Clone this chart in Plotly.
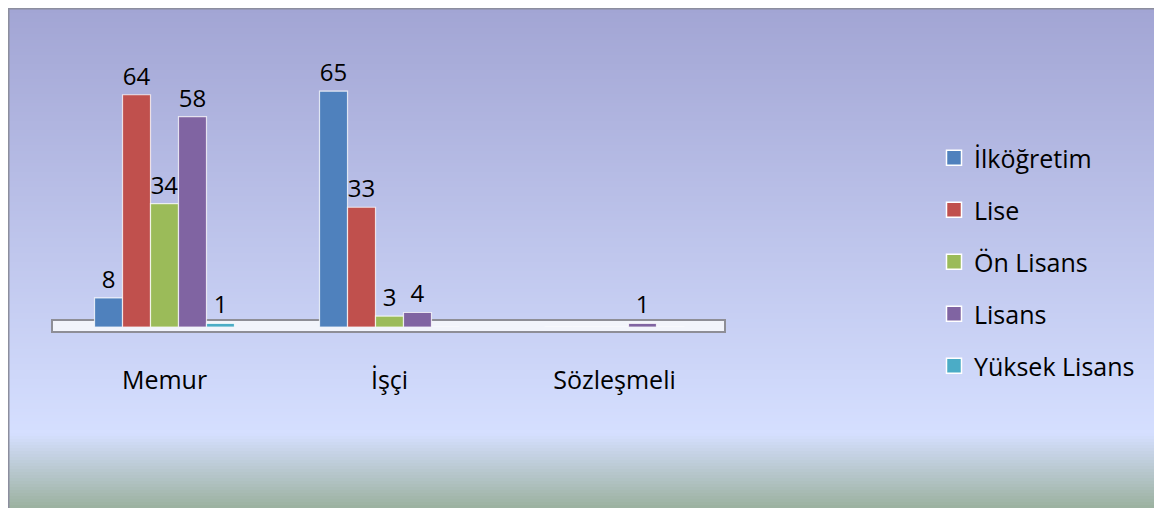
import plotly.graph_objects as go

categories = ["Memur", "İşçi", "Sözleşmeli"]
series_names = ["İlköğretim", "Lise", "Ön Lisans", "Lisans", "Yüksek Lisans"]
ilkogretim = [8, 65, 0]
lise = [64, 33, 0]
on_lisans = [34, 3, 0]
lisans = [58, 4, 1]
yuksek_lisans = [1, 0, 0]
series_values = [ilkogretim, lise, on_lisans, lisans, yuksek_lisans]
colors = ["#4F81BD", "#C0504D", "#9BBB59", "#8064A2", "#4BACC6"]

FONT = "Open Sans"
OFF = 8  # page body margin
W, H = 1162 - OFF, 508 - OFF
L, R, T, B = 52 - OFF, 435, 73 - OFF, 181
PW, PH = W - L - R, H - T - B


def px_x(px):  # screen px -> paper x
    return (px - OFF - L) / PW


def px_y(py):  # screen px -> paper y
    return (H - B - (py - OFF)) / PH


fig = go.Figure()

for name, vals, col in zip(series_names, series_values, colors):
    fig.add_trace(go.Bar(
        name=name, x=categories, y=vals,
        marker=dict(color=col, line=dict(color="rgba(255,255,255,0.75)", width=1.2)),
        text=[str(v) if v else "" for v in vals],
        textposition="outside", constraintext="none", cliponaxis=False,
        textfont=dict(family=FONT, size=24, color="#000000"),
        showlegend=False, hoverinfo="skip",
    ))
    fig.add_trace(go.Scatter(
        name=name, x=[None], y=[None], mode="markers", legendgroup=name,
        marker=dict(symbol="square", size=15, color=col, line=dict(color="white", width=1.5)),
        showlegend=True,
    ))

shapes = []


def lerp(c1, c2, t):
    return tuple(round(a + (b - a) * t) for a, b in zip(c1, c2))


top_c, mid_c, bot_c = (162, 165, 212), (213, 223, 255), (154, 176, 157)
y_top, y_mid, y_bot = 7, 432, 510
step = 3
py = y_top
while py < y_bot:
    if py < y_mid:
        c = lerp(top_c, mid_c, (py - y_top) / (y_mid - y_top))
    else:
        c = lerp(mid_c, bot_c, min(1, (py - y_mid) / (508 - y_mid)))
    shapes.append(dict(type="rect", xref="paper", yref="paper", layer="below",
                       x0=px_x(7), x1=px_x(1175),
                       y0=px_y(py + step + 0.6), y1=px_y(py),
                       fillcolor="rgb(%d,%d,%d)" % c, line=dict(width=0)))
    py += step

# frame border (top & left)
shapes.append(dict(type="rect", xref="paper", yref="paper", layer="below",
                   x0=px_x(8.5), x1=px_x(1180),
                   y0=px_y(530), y1=px_y(8.5),
                   fillcolor="rgba(0,0,0,0)", line=dict(color="#8C8E9E", width=2)))

# floor slab
shapes.append(dict(type="rect", xref="paper", yref="paper", layer="below",
                   x0=px_x(52), x1=px_x(725),
                   y0=px_y(332), y1=px_y(320),
                   fillcolor="#F2F4FB", line=dict(color="#8E8E96", width=2)))

fig.update_layout(
    width=W, height=H,
    margin=dict(l=L, r=R, t=T, b=B, pad=0),
    paper_bgcolor="white", plot_bgcolor="rgba(0,0,0,0)",
    barmode="group", bargap=0.378, bargroupgap=0,
    shapes=shapes,
    font=dict(family=FONT, size=25, color="#000000"),
    xaxis=dict(showgrid=False, zeroline=False, showline=False, ticks="",
               tickfont=dict(family=FONT, size=25, color="#000000"),
               ticklabelstandoff=36, fixedrange=True),
    yaxis=dict(range=[0, 70], showgrid=False, zeroline=False, showline=False,
               showticklabels=False, ticks="", fixedrange=True),
    legend=dict(x=px_x(934), xanchor="left", y=px_y(135), yanchor="top",
                bgcolor="rgba(0,0,0,0)", borderwidth=0, tracegroupgap=16.5,
                maxheight=450,
                font=dict(family=FONT, size=25, color="#000000")),
    showlegend=True,
)

fig.write_html("out.html")
